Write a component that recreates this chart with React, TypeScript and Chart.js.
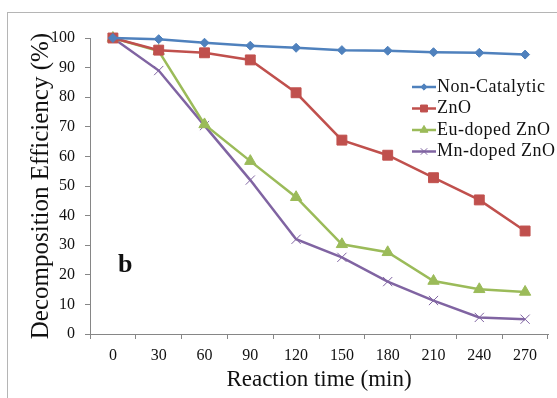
import React, { useEffect, useRef } from 'react';
import { Chart, registerables } from 'chart.js';
import { drawPoint } from 'chart.js/helpers';

Chart.register(...registerables);

const times = ['0', '30', '60', '90', '120', '150', '180', '210', '240', '270'];
const nonCatalytic = [100, 99.6, 98.4, 97.4, 96.7, 95.9, 95.7, 95.2, 95.0, 94.4];
const zno = [100, 95.9, 95.0, 92.6, 81.5, 65.5, 60.4, 52.8, 45.3, 34.8];
const euDoped = [100, 95.6, 70.8, 58.4, 46.2, 30.3, 27.6, 17.9, 15.1, 14.2];
const mnDoped = [100, 89.0, 70.4, 52.0, 32.0, 25.9, 17.7, 11.3, 5.6, 5.0];
const seriesNames = ['Non-Catalytic', 'ZnO', 'Eu-doped ZnO', 'Mn-doped ZnO'];

const SERIF = '"Liberation Serif", "Times New Roman", serif';

const decorPlugin = {
  id: 'decor',
  beforeDraw(chart: any) {
    const ctx = chart.ctx;
    ctx.save();
    ctx.fillStyle = '#ffffff';
    ctx.fillRect(0, 0, chart.width, chart.height);
    ctx.strokeStyle = '#b5b5b5';
    ctx.lineWidth = 1;
    ctx.strokeRect(7.5, 12.5, 700, 700);
    ctx.restore();
  },
  afterDraw(chart: any) {
    const ctx = chart.ctx;
    ctx.save();
    // legend
    const x0 = 412;
    const x1 = 436;
    const y0 = 87;
    const dy = 21.5;
    chart.data.datasets.forEach((ds: any, i: number) => {
      const y = y0 + i * dy;
      ctx.strokeStyle = ds.borderColor;
      ctx.lineWidth = 2.5;
      ctx.beginPath();
      ctx.moveTo(x0, y);
      ctx.lineTo(x1, y);
      ctx.stroke();
      ctx.fillStyle = ds.pointBackgroundColor;
      ctx.strokeStyle = ds.pointBorderColor;
      ctx.lineWidth = ds.pointBorderWidth;
      drawPoint(ctx, { pointStyle: ds.pointStyle, radius: ds.pointRadius * 0.7, rotation: 0, borderWidth: ds.pointBorderWidth }, (x0 + x1) / 2, y);
      ctx.fillStyle = '#111';
      ctx.font = `18px ${SERIF}`;
      try { (ctx as any).letterSpacing = '0.5px'; } catch (e) {}
      ctx.textBaseline = 'middle';
      ctx.textAlign = 'left';
      ctx.fillText(ds.label, x1 + 1, y);
      try { (ctx as any).letterSpacing = '0px'; } catch (e) {}
    });
    // panel label
    ctx.fillStyle = '#111';
    ctx.font = `bold 26px ${SERIF}`;
    ctx.textBaseline = 'alphabetic';
    ctx.textAlign = 'left';
    ctx.fillText('b', 118, 272);
    ctx.restore();
  },
};

export default function App() {
  const ref = useRef<HTMLCanvasElement>(null);
  useEffect(() => {
    if (!ref.current) return;
    const mk = (label: string, data: number[], color: string, style: string, radius: number, bw: number) => ({
      label,
      data,
      borderColor: color,
      backgroundColor: color,
      pointBackgroundColor: color,
      pointBorderColor: color,
      pointBorderWidth: bw,
      pointStyle: style,
      pointRadius: radius,
      borderWidth: 2.5,
      tension: 0,
      clip: false,
    });
    const chart = new Chart(ref.current, {
      type: 'line',
      data: {
        labels: times,
        datasets: [
          mk(seriesNames[0], nonCatalytic, '#4F81BD', 'rectRot', 4.5, 1),
          mk(seriesNames[1], zno, '#C0504D', 'rect', 7, 1),
          mk(seriesNames[2], euDoped, '#9BBB59', 'triangle', 6.5, 1),
          mk(seriesNames[3], mnDoped, '#8064A2', 'crossRot', 6.5, 1),
        ] as any,
      },
      options: {
        responsive: false,
        animation: false,
        layout: { padding: { left: 27, top: 38, right: 9, bottom: 0 } },
        plugins: {
          legend: { display: false },
          tooltip: { enabled: false },
        },
        scales: {
          x: {
            type: 'category',
            offset: true,
            afterFit: (s: any) => { s.height = 64; },
            grid: { offset: true, drawOnChartArea: false, drawTicks: true, tickLength: 5, color: '#868686' },
            border: { color: '#868686', width: 1 },
            ticks: { color: '#111', font: { family: SERIF, size: 16 }, padding: 7, maxRotation: 0 },
            title: {
              display: true,
              text: 'Reaction time (min)',
              color: '#111',
              font: { family: SERIF, size: 23, lineHeight: 1 },
              padding: { top: 0, bottom: 7 },
            },
          },
          y: {
            min: 0,
            max: 100,
            afterFit: (s: any) => { s.width = 63; },
            grid: { drawOnChartArea: false, drawTicks: true, tickLength: 5, color: '#868686' },
            border: { color: '#868686', width: 1 },
            ticks: { stepSize: 10, color: '#111', font: { family: SERIF, size: 16 }, padding: 10 },
            title: {
              display: true,
              text: 'Decomposition Efficiency (%)',
              color: '#111',
              font: { family: SERIF, size: 25, lineHeight: 1 },
              padding: { top: 2, bottom: 0 },
            },
          },
        },
      },
      plugins: [decorPlugin],
    });
    return () => chart.destroy();
  }, []);
  return (
    <div style={{ position: 'fixed', left: 0, top: 0, width: 557, height: 398 }}>
      <canvas ref={ref} width={557} height={398} style={{ display: 'block' }} />
    </div>
  );
}
